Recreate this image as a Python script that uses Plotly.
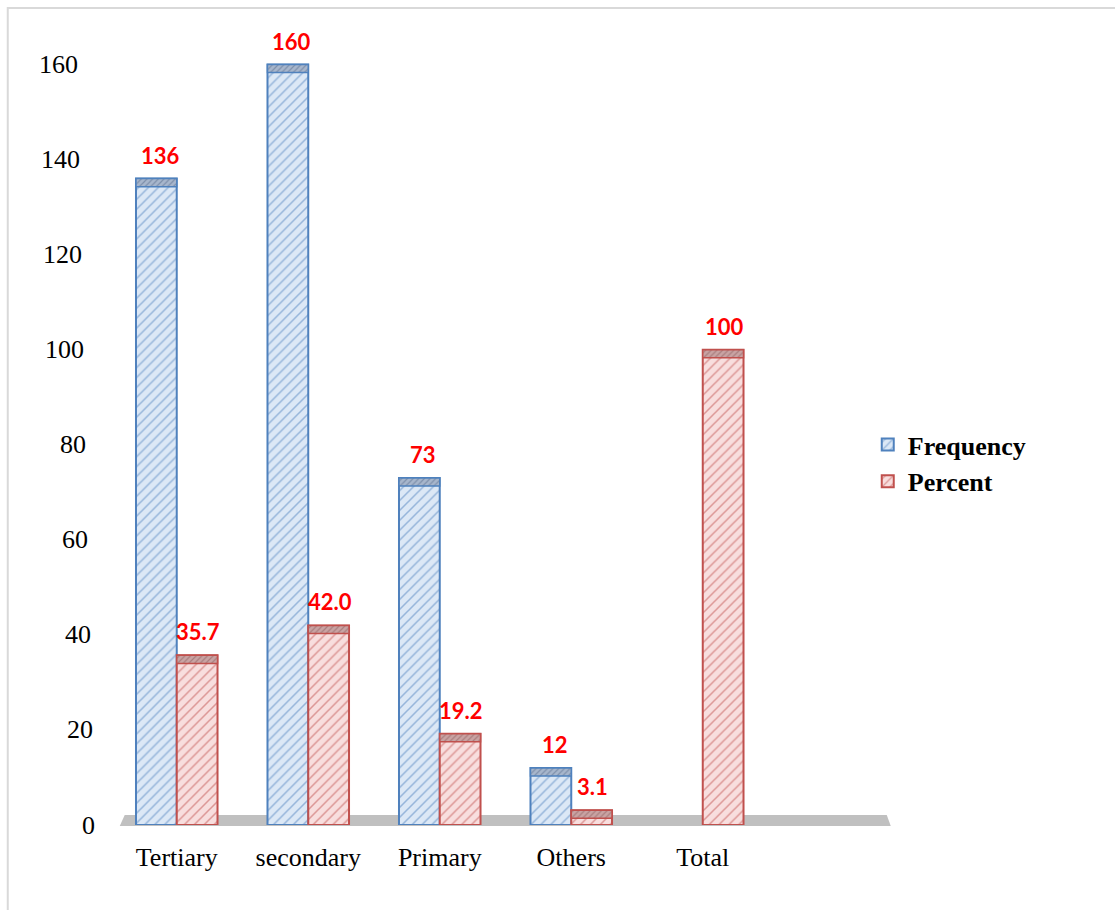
import plotly.graph_objects as go

# Education level of respondents
categories = ["Tertiary", "secondary", "Primary", "Others", "Total"]
frequency = [136, 160, 73, 12, None]
percent = [35.7, 42.0, 19.2, 3.1, 100]
freq_labels = ["136", "160", "73", "12", ""]
pct_labels = ["35.7", "42.0", "19.2", "3.1", "100"]
y_ticks = [0, 20, 40, 60, 80, 100, 120, 140, 160]

W, H = 1115, 910
L, R, T, B = 111.25, 214.75, 17, 85
PW, PH = W - L - R, H - T - B
Y_MAX = 170

BLUE_BG, BLUE_FG = "#dce8f6", "#4f81bd"
RED_BG, RED_FG = "#f8dede", "#c0504d"
CAP = 1.7  # thickness of the shaded top face, in data units

x_idx = list(range(len(categories)))


def px_to_paper_x(px):
    return (px - L) / PW


def px_to_paper_y(py):
    return (H - B - py) / PH


fig = go.Figure()

fig.add_trace(go.Bar(
    x=x_idx, y=frequency, name="<b>Frequency</b>", offsetgroup="f",
    marker=dict(color=BLUE_BG, line=dict(color=BLUE_FG, width=2),
                pattern=dict(shape="/", fgcolor=BLUE_FG, bgcolor=BLUE_BG,
                             size=7, solidity=0.22, fillmode="overlay")),
    hoverinfo="x+y",
))
fig.add_trace(go.Bar(
    x=x_idx, y=percent, name="<b>Percent</b>", offsetgroup="p",
    marker=dict(color=RED_BG, line=dict(color=RED_FG, width=2),
                pattern=dict(shape="/", fgcolor=RED_FG, bgcolor=RED_BG,
                             size=7, solidity=0.22, fillmode="overlay")),
    hoverinfo="x+y",
))

# darker top faces for the pseudo-3D look
fig.add_trace(go.Bar(
    x=x_idx, y=[CAP if v is not None else None for v in frequency],
    base=[v - CAP if v is not None else None for v in frequency],
    offsetgroup="f", showlegend=False, hoverinfo="skip",
    marker=dict(color="#a7b6cc", line=dict(color=BLUE_FG, width=1.5),
                pattern=dict(shape="/", fgcolor="#56698a", bgcolor="#a7b6cc",
                             size=4, solidity=0.3, fillmode="overlay")),
))
fig.add_trace(go.Bar(
    x=x_idx, y=[CAP for v in percent],
    base=[v - CAP for v in percent],
    offsetgroup="p", showlegend=False, hoverinfo="skip",
    marker=dict(color="#c9a3a3", line=dict(color=RED_FG, width=1.5),
                pattern=dict(shape="/", fgcolor="#8a5a5a", bgcolor="#c9a3a3",
                             size=4, solidity=0.3, fillmode="overlay")),
))

annotations = []
label_font = dict(family="Lato", size=22, color="#ff0000")
half = 0.155
for i, (v, t) in enumerate(zip(frequency, freq_labels)):
    if v is None:
        continue
    annotations.append(dict(x=i - half + 0.03, y=v, text=f"<b>{t}</b>", showarrow=False,
                            xref="x", yref="y", yanchor="bottom", yshift=8,
                            font=label_font))
for i, (v, t) in enumerate(zip(percent, pct_labels)):
    annotations.append(dict(x=i + half + 0.01, y=v, text=f"<b>{t}</b>", showarrow=False,
                            xref="x", yref="y", yanchor="bottom", yshift=8,
                            font=label_font))

# value axis labels follow the slanted back wall
for v in y_ticks:
    right_px = 97 - v * 17 / 160
    annotations.append(dict(x=px_to_paper_x(right_px), y=v, xref="paper", yref="y",
                            text=str(v), showarrow=False, xanchor="right",
                            font=dict(family="Liberation Serif", size=26, color="#000000")))

shapes = [
    # chart floor
    dict(type="path", xref="paper", yref="paper", layer="below",
         path="M {:.4f},{:.4f} L {:.4f},{:.4f} L {:.4f},{:.4f} L {:.4f},{:.4f} Z".format(
             px_to_paper_x(120), px_to_paper_y(826),
             px_to_paper_x(125), px_to_paper_y(815),
             px_to_paper_x(887), px_to_paper_y(815),
             px_to_paper_x(891), px_to_paper_y(826)),
         fillcolor="#c0c0c0", line=dict(width=0)),
    # outer frame
    dict(type="rect", xref="paper", yref="paper", layer="below",
         x0=px_to_paper_x(8), y0=px_to_paper_y(940),
         x1=px_to_paper_x(1140), y1=px_to_paper_y(8),
         line=dict(color="#d9d9d9", width=2), fillcolor="rgba(0,0,0,0)"),
]

fig.update_layout(
    width=W, height=H,
    margin=dict(l=L, r=R, t=T, b=B, autoexpand=False),
    paper_bgcolor="white", plot_bgcolor="white",
    barmode="group", bargap=0.38, bargroupgap=0,
    font=dict(family="Liberation Serif", size=26, color="#000000"),
    xaxis=dict(range=[-0.5, 5.5], tickmode="array", tickvals=x_idx, ticktext=categories,
               showgrid=False, zeroline=False, showline=False, ticks="",
               tickfont=dict(family="Liberation Serif", size=26, color="#000000"),
               ticklabelstandoff=14),
    yaxis=dict(range=[0, Y_MAX], showgrid=False, zeroline=False, showline=False,
               showticklabels=False, ticks=""),
    legend=dict(x=px_to_paper_x(868), y=px_to_paper_y(463), xanchor="left", yanchor="middle",
                xref="paper", yref="paper",
                font=dict(family="Liberation Serif", size=26, color="#000000"),
                bgcolor="rgba(0,0,0,0)", itemwidth=30, tracegroupgap=0),
    annotations=annotations,
    shapes=shapes,
)

fig.write_html("out.html")
